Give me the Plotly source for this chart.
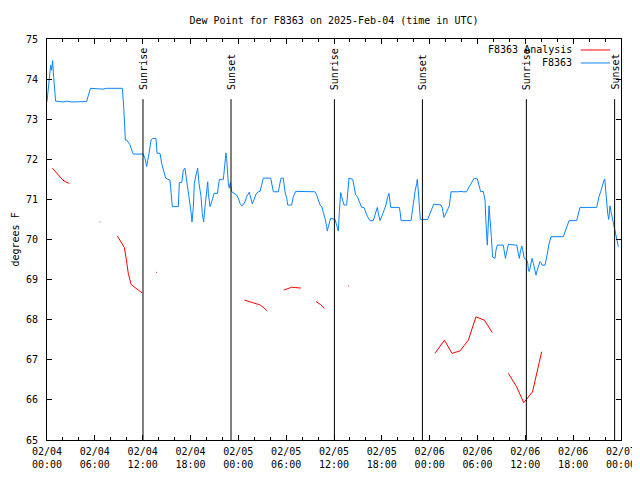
import datetime as dt
import plotly.graph_objects as go

BASE = dt.datetime(2025, 2, 4, 0, 0)

# F8363 observed dew point (hours since 2025-02-04 00:00 UTC, degrees F)
obs_hours = [0.0, 0.17, 0.33, 0.46, 0.58, 0.71, 0.83, 0.96, 1.08, 2.0, 2.5, 3.0, 4.96, 5.2, 5.45, 7.0, 7.5, 9.3,
             9.45, 9.62, 9.7, 9.83, 10.0, 10.41, 10.7, 10.83, 11.88, 12.0, 12.3, 12.5, 12.8, 13.05, 13.25, 13.67,
             13.8, 14.17, 14.38, 14.68, 14.88, 15.43, 15.55, 15.72, 16.47, 16.6, 16.9, 17.1, 17.3, 17.52, 17.8,
             18.06, 18.19, 18.36, 18.48, 18.78, 18.9, 19.07, 19.32, 19.48, 19.65,
             19.82, 19.94, 20.03, 20.16, 20.24, 20.45, 20.66, 20.95, 21.37, 21.49, 21.62, 22.12, 22.2, 22.33,
             22.45, 22.54, 22.62, 22.74, 22.87, 23.0, 23.17, 23.58, 23.79, 24.0, 24.21, 24.42, 24.62, 24.84,
             25.05, 25.38, 25.55, 25.75, 25.97, 26.22, 26.5, 26.72, 26.93, 27.13, 28.06, 28.18, 28.39, 29.02,
             29.14, 29.35, 29.64, 29.85, 30.07, 30.19, 30.69, 30.9, 31.2, 33.4, 33.62, 33.83, 34.04, 34.25,
             34.46, 34.66, 34.87, 35.08, 35.16, 35.29, 35.41, 35.58, 36.13, 36.34, 36.54, 36.67, 36.84, 36.96,
             37.09, 37.25, 37.59, 37.72, 37.88, 38.35, 38.51, 38.72, 38.93, 39.14,
             39.26, 39.47, 39.76, 39.97, 40.18, 40.52, 40.93, 41.14, 41.43, 41.56, 41.77, 42.06, 42.31, 42.52,
             42.69, 42.9, 43.11, 44.2, 44.32, 44.41, 45.66, 45.83, 45.95, 46.16, 46.37, 46.45, 46.58, 46.7,
             46.83, 47.75, 47.92, 48.08, 48.29, 48.51, 49.42, 49.59, 49.8, 50.01, 50.26, 50.47, 50.55, 50.68,
             51.59, 51.8, 52.22, 52.64, 52.85, 53.06, 53.27, 53.6, 53.98, 54.19, 54.4, 54.73,
             54.94, 55.03, 55.11, 55.23, 55.32, 55.45, 55.53, 55.61, 55.74, 55.82, 55.91, 56.2, 56.32, 56.49,
             57.24, 57.33, 57.5, 57.67, 57.87, 58.71, 58.92, 59.12, 59.25, 59.37, 59.55, 59.67, 59.84, 60.0,
             60.18, 60.3, 60.38, 60.5, 60.67, 60.84, 61.0, 61.18, 61.34, 61.5, 61.68, 61.84, 62.0, 62.09,
             62.47, 62.68, 62.8, 62.93, 63.1, 63.22, 64.77, 64.98, 65.19, 65.32, 65.48, 66.44, 66.57, 66.69,
             66.86, 68.95, 69.08, 69.24, 69.45, 69.66, 69.87, 69.96, 70.0, 70.12, 70.25, 70.33, 70.46, 70.54,
             70.62, 70.75, 70.87, 70.96, 71.12, 71.25, 71.37, 71.54, 71.67]
obs_values = [73.44, 73.73, 74.14, 74.35, 74.22, 74.46, 74.06, 73.73, 73.45, 73.43, 73.45, 73.43, 73.44, 73.6,
              73.77, 73.75, 73.77, 73.77,
              73.77, 73.31, 72.9, 72.48, 72.48, 72.36, 72.19, 72.13, 72.13, 72.15, 72.02, 71.82, 72.15, 72.48,
              72.52, 72.52, 72.15, 72.15, 71.9, 71.65, 71.53, 71.48, 71.15, 70.82, 70.82, 71.42, 71.42, 71.73,
              71.78, 71.4, 71.07, 70.7, 70.44, 70.82, 71.4, 71.69, 71.78, 71.4, 71.07, 70.65, 70.44,
              70.82, 71.07, 71.32, 71.44, 71.15, 70.82, 70.94, 71.15, 71.15, 71.36, 71.5, 71.5, 71.65, 71.98,
              72.16, 72.02, 71.73, 71.4, 71.28, 71.42, 71.19, 71.15, 71.11, 71.03, 70.9, 70.84, 70.87, 70.94,
              71.07, 71.18, 71.07, 70.89, 70.99, 71.13, 71.19, 71.2, 71.36, 71.53, 71.53, 71.36, 71.19, 71.19,
              71.36, 71.53, 71.53, 71.19, 71.03, 70.86, 70.86, 71.07, 71.2, 71.2, 71.19, 71.11, 70.98, 70.86,
              70.82, 70.69, 70.53, 70.32, 70.21, 70.32, 70.44, 70.53, 70.5, 70.36, 70.21, 70.69, 71.17, 71.07,
              70.98, 70.86, 70.86, 71.19, 71.53, 71.5, 71.28, 71.11, 71.07, 70.96,
              70.88, 70.8, 70.8, 70.69, 70.58, 70.47, 70.47, 70.61, 70.8, 70.65, 70.47, 70.61, 70.73, 70.86,
              71.03, 71.15, 70.8, 70.8, 70.65, 70.47, 70.47, 70.73, 70.94, 71.19, 71.4, 71.5, 71.19, 70.94,
              70.5, 70.5, 70.58, 70.69, 70.8, 70.88, 70.86, 70.78, 70.55, 70.65, 70.78, 70.84, 70.98, 71.19,
              71.19, 71.2, 71.19, 71.19, 71.28, 71.36, 71.44, 71.53, 71.51, 71.36, 71.19, 71.2,
              70.98, 70.55, 70.11, 69.86, 70.24, 70.84, 70.61, 70.24, 70.07, 69.78, 69.56, 69.53, 69.74, 69.86,
              69.86, 69.74, 69.53, 69.69, 69.88, 69.86, 69.86, 69.65, 69.53, 69.69, 69.84, 69.74, 69.55, 69.51,
              69.49, 69.41, 69.24, 69.2, 69.41, 69.53, 69.41, 69.24, 69.11, 69.24, 69.36, 69.45, 69.41, 69.36,
              69.36, 69.53, 69.69, 69.86, 69.99, 70.07, 70.07, 70.2, 70.32, 70.4, 70.47, 70.47, 70.57, 70.69,
              70.8, 70.8, 70.94, 71.07, 71.19, 71.36, 71.48, 71.51, 71.4, 71.15, 70.86, 70.65, 70.5, 70.73,
              70.84, 70.69, 70.57, 70.49, 70.32, 70.24, 70.07, 69.94, 69.82]

# F8363 Analysis (None = gap)
ana_hours = [0.67, 1.1, 1.6, 2.0, 2.4, 2.8, None,
             6.6, 6.7, None,
             8.82, 9.1, 9.5, 9.7, 9.95, 10.2, 10.55, 11.0, 11.5, 11.93, None,
             13.7, 13.8, None,
             24.75, 25.5, 26.1, 26.7, 27.2, 27.6, None,
             29.7, 30.2, 30.7, 31.2, 31.85, None,
             33.75, 34.3, 34.8, None,
             37.75, 37.85, None,
             48.67, 49.85, 50.8, 51.8, 52.85, 53.8, 54.85, 55.85, None,
             57.87, 58.9, 59.8, 60.45, 60.9, 62.05]
ana_values = [71.78, 71.68, 71.58, 71.48, 71.43, 71.40, None,
              70.44, 70.44, None,
              70.09, 70.0, 69.89, 69.80, 69.5, 69.15, 68.88, 68.80, 68.73, 68.67, None,
              69.18, 69.18, None,
              68.49, 68.45, 68.41, 68.37, 68.30, 68.22, None,
              68.74, 68.78, 68.81, 68.80, 68.79, None,
              68.45, 68.38, 68.28, None,
              68.84, 68.84, None,
              67.16, 67.49, 67.16, 67.22, 67.49, 68.07, 67.99, 67.68, None,
              66.66, 66.33, 65.93, 66.08, 66.2, 67.2]

# Sun events (hours since start)
sun_hours = [12.04, 23.08, 36.05, 47.09, 60.13, 71.2]
sun_labels = ["Sunrise", "Sunset", "Sunrise", "Sunset", "Sunrise", "Sunset"]

legend_names = ["F8363 Analysis", "F8363"]
BLUE = "#0a84ff"
RED = "#ff0000"
FONT = "DejaVu Sans Mono"
FS = 10
W, H = 632, 472  # page body adds an 8px margin


def to_time(hours):
    return [None if h is None else BASE + dt.timedelta(hours=h) for h in hours]


fig = go.Figure()
fig.add_trace(go.Scatter(x=to_time(ana_hours), y=ana_values, mode="lines", name=legend_names[0],
                         line=dict(color=RED, width=1), connectgaps=False))
fig.add_trace(go.Scatter(x=to_time(obs_hours), y=obs_values, mode="lines", name=legend_names[1],
                         line=dict(color=BLUE, width=1)))

for t, lab in zip(to_time(sun_hours), sun_labels):
    fig.add_shape(type="line", xref="x", yref="y", x0=t, x1=t, y0=65, y1=73.5,
                  line=dict(color="black", width=1))
    fig.add_annotation(x=t, y=73.68, xref="x", yref="y", text=lab, textangle=-90,
                       showarrow=False, xanchor="center", yanchor="bottom",
                       font=dict(family=FONT, size=FS, color="black"), xshift=1)

# manual legend (text left, line sample right)
for i, (name, col) in enumerate(zip(legend_names, [RED, BLUE])):
    yp = 0.9726 - i * 0.0324
    fig.add_annotation(x=0.918, y=yp, xref="paper", yref="paper", text=name, showarrow=False,
                       xanchor="right", yanchor="middle", font=dict(family=FONT, size=FS, color="black"))
    fig.add_shape(type="line", xref="paper", yref="paper", x0=0.930, x1=0.981, y0=yp, y1=yp,
                  line=dict(color=col, width=1))

# y axis title
fig.add_annotation(x=0, y=0.5, xref="paper", yref="paper", text="degrees F", textangle=-90,
                   showarrow=False, xanchor="center", yanchor="middle", xshift=-32,
                   font=dict(family=FONT, size=FS, color="black"))

fig.update_layout(
    width=W, height=H,
    margin=dict(l=39, r=19, t=31, b=40, autoexpand=False),
    paper_bgcolor="white", plot_bgcolor="white",
    showlegend=False,
    font=dict(family=FONT, size=FS, color="black"),
    title=dict(text="Dew Point for F8363 on 2025-Feb-04 (time in UTC)", x=0.5, xref="paper",
               y=1 - 12 / H, yref="container", xanchor="center", yanchor="middle",
               font=dict(family=FONT, size=FS, color="black")),
)
fig.update_xaxes(
    type="date", range=[BASE, BASE + dt.timedelta(hours=72)], automargin=False,
    tick0=BASE, dtick=6 * 3600 * 1000, tickformat="%m/%d<br>%H:%M",
    ticks="inside", ticklen=5, tickcolor="black", showgrid=False, zeroline=False,
    showline=True, linecolor="black", linewidth=1, mirror="ticks",
    minor=dict(dtick=2 * 3600 * 1000, ticks="inside", ticklen=3, tickcolor="black", showgrid=False),
    tickfont=dict(family=FONT, size=FS, color="black"), ticklabelstandoff=2,
)
fig.update_yaxes(
    range=[65, 75], dtick=1, ticks="inside", ticklen=5, tickcolor="black", automargin=False,
    showgrid=False, zeroline=False, showline=True, linecolor="black", linewidth=1, mirror="ticks",
    tickfont=dict(family=FONT, size=FS, color="black"), ticklabelstandoff=6,
)

fig.write_html("out.html")
